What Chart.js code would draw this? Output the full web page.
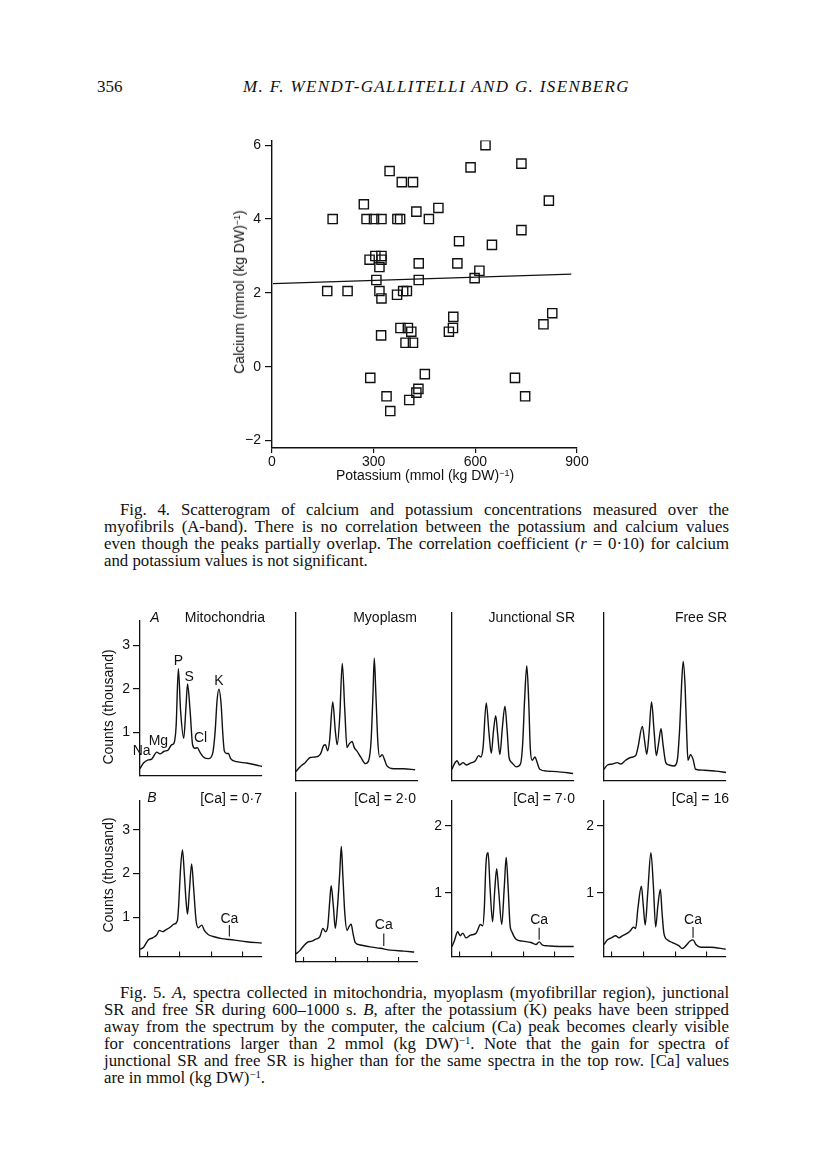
<!DOCTYPE html>
<html>
<head>
<meta charset="utf-8">
<script src="https://cdn.jsdelivr.net/npm/chart.js@4.4.0/dist/chart.umd.min.js"></script>
<style>
body { margin: 0; background: #fff; }
#page { position: relative; width: 816px; height: 1166px; overflow: hidden; color: #111; font-family: "Liberation Serif", serif; }
canvas { position: absolute; }
.t { position: absolute; white-space: nowrap; font-family: "Liberation Sans", Arial, sans-serif; font-size: 14px; line-height: 16px; }
.rot { transform: translate(-50%, -50%) rotate(-90deg); }
.r { transform: translate(-100%, -50%); }
.c { transform: translate(-50%, -50%); }
.cap { position: absolute; left: 104px; width: 625px; font-size: 16.8px; line-height: 17px; }
.cap div { white-space: nowrap; }
.cap div.first { padding-left: 16px; }
sup { font-size: 64%; line-height: 0; vertical-align: 0.5em; }
.head { position: absolute; top: 78px; font-size: 17px; line-height: 18px; }
</style>
</head>
<body>
<div id="page">
  <div class="head" style="left:97px">356</div>
  <div class="head" id="runhead" style="left:243px;font-style:italic">M. F. WENDT-GALLITELLI AND G. ISENBERG</div>

  <canvas id="scatter" width="371" height="344" style="left:230px;top:128px"></canvas>
  <div class="t rot" style="left:239px;top:292px">Calcium (mmol (kg DW)<sup>−1</sup>)</div>
  <div class="t c" style="left:425px;top:475px">Potassium (mmol (kg DW)<sup>−1</sup>)</div>

  <div class="cap" style="top:501px">
    <div class="first"><span>Fig. 4. Scatterogram of calcium and potassium concentrations measured over the</span></div>
    <div><span>myofibrils (A-band). There is no correlation between the potassium and calcium values</span></div>
    <div><span>even though the peaks partially overlap. The correlation coefficient (<i>r</i> = 0·10) for calcium</span></div>
    <div class="last"><span>and potassium values is not significant.</span></div>
  </div>

  <canvas id="pA1"></canvas><canvas id="pA2"></canvas><canvas id="pA3"></canvas><canvas id="pA4"></canvas>
  <canvas id="pB1"></canvas><canvas id="pB2"></canvas><canvas id="pB3"></canvas><canvas id="pB4"></canvas>

  <div class="t rot" style="left:108px;top:707px">Counts (thousand)</div>
  <div class="t rot" style="left:108px;top:875px">Counts (thousand)</div>

  <div class="t c" style="left:155px;top:617px;font-style:italic">A</div>
  <div class="t r" style="left:265px;top:617px">Mitochondria</div>
  <div class="t r" style="left:417px;top:617px">Myoplasm</div>
  <div class="t r" style="left:575px;top:617px">Junctional SR</div>
  <div class="t r" style="left:727px;top:617px">Free SR</div>

  <div class="t c" style="left:152px;top:797px;font-style:italic">B</div>
  <div class="t r" style="left:262px;top:798px">[Ca] = 0·7</div>
  <div class="t r" style="left:416px;top:798px">[Ca] = 2·0</div>
  <div class="t r" style="left:575px;top:798px">[Ca] = 7·0</div>
  <div class="t r" style="left:729px;top:798px">[Ca] = 16</div>

  <div class="cap" style="top:984px">
    <div class="first"><span>Fig. 5. <i>A</i>, spectra collected in mitochondria, myoplasm (myofibrillar region), junctional</span></div>
    <div><span>SR and free SR during 600–1000 s. <i>B</i>, after the potassium (K) peaks have been stripped</span></div>
    <div><span>away from the spectrum by the computer, the calcium (Ca) peak becomes clearly visible</span></div>
    <div><span>for concentrations larger than 2 mmol (kg DW)<sup>−1</sup>. Note that the gain for spectra of</span></div>
    <div><span>junctional SR and free SR is higher than for the same spectra in the top row. [Ca] values</span></div>
    <div class="last"><span>are in mmol (kg DW)<sup>−1</sup>.</span></div>
  </div>
</div>

<script>
// Fig. 4 scatter: potassium vs calcium, mmol (kg DW)^-1
let potassium = [630, 736, 586, 347, 383, 416, 817, 271, 491, 426, 179, 279, 301, 323, 370, 378, 463, 736, 552, 649,
    305, 323, 288, 323, 317, 433, 547, 612, 598, 308, 433, 163, 223, 317, 323, 369, 387, 398, 535, 827,
    801, 379, 401, 411, 322, 394, 416, 522, 534, 451, 290, 717, 432, 426, 338, 747, 405, 349]
let calcium = [6.0, 5.5, 5.4, 5.3, 5.0, 5.0, 4.5, 4.4, 4.3, 4.2, 4.0, 4.0, 4.0, 4.0, 4.0, 4.0, 4.0, 3.7, 3.4, 3.3,
    3.0, 3.0, 2.9, 2.9, 2.7, 2.8, 2.8, 2.6, 2.4, 2.35, 2.35, 2.05, 2.05, 2.05, 1.85, 1.95, 2.05, 2.05, 1.35, 1.45,
    1.15, 1.05, 1.05, 0.95, 0.85, 0.65, 0.65, 0.95, 1.05, -0.2, -0.3, -0.3, -0.6, -0.7, -0.8, -0.8, -0.9, -1.2]
let fitK = [3, 883]
let fitCa = [2.25, 2.51]
let kTicks = [0, 300, 600, 900]
let caTicks = [-2, 0, 2, 4, 6]

// Fig. 5 spectra: energy (keV) and counts (thousand)
let mitoE = [0.75, 0.86, 1.01, 1.12, 1.28, 1.38, 1.51, 1.64, 1.75, 1.82, 1.89, 1.96, 2.03, 2.13, 2.20, 2.25, 2.33, 2.41, 2.48, 2.56, 2.64, 2.75, 2.91, 3.04, 3.12, 3.18, 3.24, 3.31, 3.36, 3.41, 3.48, 3.54, 3.61, 3.80, 4.11, 4.38, 4.60]
let mitoC = [0.16, 0.29, 0.36, 0.38, 0.54, 0.50, 0.56, 0.59, 0.71, 0.74, 1.14, 2.46, 1.50, 0.86, 1.57, 2.11, 1.50, 0.71, 0.63, 0.64, 0.54, 0.43, 0.39, 0.50, 1.00, 1.71, 1.99, 1.64, 1.00, 0.57, 0.51, 0.51, 0.39, 0.32, 0.29, 0.25, 0.21]
let myoE = [0.75, 0.89, 1.04, 1.20, 1.36, 1.52, 1.62, 1.68, 1.75, 1.81, 1.91, 1.99, 2.05, 2.13, 2.21, 2.29, 2.36, 2.43, 2.52, 2.59, 2.67, 2.80, 2.94, 3.04, 3.12, 3.18, 3.22, 3.27, 3.33, 3.39, 3.47, 3.54, 3.62, 3.83, 4.15, 4.51]
let myoC = [0.20, 0.31, 0.39, 0.50, 0.51, 0.57, 0.75, 0.77, 0.64, 0.86, 1.68, 1.07, 0.77, 1.36, 2.50, 1.50, 0.71, 0.79, 0.84, 0.71, 0.64, 0.50, 0.37, 0.43, 0.86, 1.86, 2.61, 1.86, 0.86, 0.51, 0.56, 0.46, 0.32, 0.26, 0.26, 0.24]
let jsrE = [0.75, 0.82, 0.91, 0.99, 1.10, 1.20, 1.33, 1.49, 1.59, 1.66, 1.73, 1.83, 1.92, 1.99, 2.06, 2.13, 2.19, 2.26, 2.34, 2.42, 2.49, 2.55, 2.64, 2.78, 2.91, 2.98, 3.04, 3.11, 3.17, 3.22, 3.28, 3.37, 3.43, 3.52, 3.75, 4.06, 4.57]
let jsrC = [0.25, 0.36, 0.43, 0.34, 0.39, 0.34, 0.38, 0.43, 0.54, 0.51, 0.71, 1.66, 1.00, 0.59, 1.07, 1.39, 1.00, 0.56, 1.14, 1.59, 1.07, 0.50, 0.39, 0.30, 0.36, 0.79, 1.71, 2.45, 1.71, 0.71, 0.44, 0.51, 0.41, 0.25, 0.21, 0.20, 0.16]
let fsrE = [0.75, 0.86, 1.01, 1.17, 1.28, 1.43, 1.59, 1.75, 1.82, 1.96, 2.03, 2.10, 2.17, 2.25, 2.33, 2.40, 2.47, 2.55, 2.61, 2.70, 2.80, 2.96, 3.06, 3.14, 3.20, 3.25, 3.31, 3.36, 3.40, 3.48, 3.56, 3.64, 3.90, 4.27, 4.60]
let fsrC = [0.25, 0.34, 0.36, 0.39, 0.36, 0.44, 0.50, 0.54, 0.71, 1.16, 0.86, 0.57, 1.00, 1.68, 1.07, 0.54, 0.79, 1.11, 0.79, 0.39, 0.34, 0.32, 0.43, 1.14, 2.07, 2.54, 2.00, 1.00, 0.44, 0.56, 0.46, 0.25, 0.23, 0.21, 0.18]

let mitoBE = [0.75, 0.86, 1.01, 1.15, 1.28, 1.36, 1.47, 1.54, 1.70, 1.82, 1.93, 1.97, 2.03, 2.09, 2.15, 2.20, 2.25, 2.31, 2.38, 2.44, 2.52, 2.59, 2.70, 2.78, 2.91, 3.06, 3.33, 3.59, 3.80, 4.11, 4.59]
let mitoBC = [0.27, 0.31, 0.48, 0.53, 0.60, 0.70, 0.67, 0.70, 0.77, 0.84, 0.92, 1.27, 2.12, 2.54, 1.98, 1.41, 1.07, 1.62, 2.22, 1.69, 0.92, 0.76, 0.82, 0.70, 0.60, 0.56, 0.51, 0.49, 0.47, 0.44, 0.41]
let myoBE = [0.75, 0.87, 0.99, 1.12, 1.25, 1.36, 1.50, 1.60, 1.68, 1.75, 1.81, 1.86, 1.93, 1.99, 2.06, 2.13, 2.18, 2.23, 2.29, 2.36, 2.42, 2.49, 2.55, 2.62, 2.78, 3.09, 3.41, 3.73, 4.15, 4.48]
let myoBC = [0.27, 0.34, 0.44, 0.52, 0.54, 0.58, 0.63, 0.81, 0.74, 0.84, 1.34, 1.71, 1.27, 0.81, 1.27, 1.98, 2.54, 1.90, 1.13, 0.77, 0.84, 0.90, 0.70, 0.51, 0.46, 0.42, 0.39, 0.35, 0.33, 0.31]
let jsrBE = [0.75, 0.82, 0.93, 1.01, 1.09, 1.19, 1.33, 1.51, 1.58, 1.64, 1.72, 1.77, 1.82, 1.89, 1.95, 2.03, 2.10, 2.16, 2.22, 2.32, 2.40, 2.46, 2.52, 2.58, 2.64, 2.77, 2.98, 3.24, 3.40, 3.50, 3.61, 3.77, 4.19, 4.59]
let jsrBC = [0.20, 0.28, 0.42, 0.36, 0.40, 0.33, 0.37, 0.40, 0.47, 0.53, 0.51, 0.77, 1.42, 1.60, 1.09, 0.57, 1.05, 1.36, 1.05, 0.53, 1.09, 1.53, 1.09, 0.53, 0.42, 0.31, 0.28, 0.26, 0.23, 0.27, 0.22, 0.21, 0.20, 0.20]
let fsrBE = [0.75, 0.86, 0.98, 1.12, 1.22, 1.33, 1.49, 1.59, 1.68, 1.75, 1.82, 1.93, 1.99, 2.05, 2.13, 2.23, 2.31, 2.38, 2.45, 2.53, 2.58, 2.64, 2.75, 2.91, 3.12, 3.22, 3.33, 3.46, 3.56, 3.65, 3.80, 4.11, 4.59]
let fsrBC = [0.23, 0.30, 0.33, 0.36, 0.33, 0.36, 0.40, 0.44, 0.49, 0.47, 0.77, 1.10, 0.81, 0.52, 1.00, 1.60, 1.09, 0.49, 0.81, 1.05, 0.72, 0.40, 0.30, 0.26, 0.21, 0.17, 0.21, 0.28, 0.30, 0.23, 0.19, 0.19, 0.16]

// element labels on the mitochondria spectrum
let peakNames = ['Na', 'Mg', 'P', 'S', 'Cl', 'K']
let peakE = [0.80, 1.33, 1.96, 2.30, 2.66, 3.24]
let peakC = [0.56, 0.79, 2.63, 2.27, 0.87, 2.17]

// Ca marker in each bottom panel
let caE = [3.57, 3.52, 3.50, 3.56]
let caLow = [0.56, 0.44, 0.30, 0.33]
let caHigh = [0.82, 0.70, 0.48, 0.49]
let caLabelC = [0.95, 0.88, 0.60, 0.60]

let keVTicks = [1, 2, 3, 4]

Chart.defaults.font.family = '"Liberation Sans", Arial, sans-serif'
Chart.defaults.color = '#111'

// writes text labels at data coordinates
const textMarks = {
    id: 'textMarks',
    afterDatasetsDraw(chart, args, opts) {
        if (!opts || !opts.items) return
        const ctx = chart.ctx
        const xs = chart.scales.x, ys = chart.scales.y
        ctx.save()
        ctx.font = '14px "Liberation Sans", Arial, sans-serif'
        ctx.fillStyle = '#111'
        ctx.textAlign = 'center'
        ctx.textBaseline = 'middle'
        opts.items.forEach(it => {
            ctx.fillText(it.t, xs.getPixelForValue(it.x), ys.getPixelForValue(it.y))
        })
        ctx.restore()
    }
}
Chart.register(textMarks)

const ink = '#111'
const pts = (xs, ys) => xs.map((v, i) => ({ x: v, y: ys[i] }))

// scatter
new Chart(document.getElementById('scatter'), {
    type: 'scatter',
    data: {
        datasets: [{
            data: pts(potassium, calcium),
            pointStyle: 'rect',
            pointRadius: 6.5,
            borderColor: ink,
            backgroundColor: 'rgba(0,0,0,0)',
            borderWidth: 1.4
        }, {
            type: 'line',
            data: pts(fitK, fitCa),
            borderColor: ink,
            borderWidth: 1.2,
            pointRadius: 0
        }]
    },
    options: {
        responsive: false,
        animation: false,
        events: [],
        layout: { padding: { top: 10, right: 24, left: 0, bottom: 0 }, autoPadding: false },
        plugins: { legend: { display: false }, tooltip: { enabled: false } },
        scales: {
            x: {
                type: 'linear', min: 0, max: 900,
                afterBuildTicks: s => { s.ticks = kTicks.map(v => ({ value: v })) },
                afterFit: s => { s.height = 24 },
                ticks: { font: { size: 14 }, padding: 1, maxRotation: 0 },
                grid: { drawOnChartArea: false, tickLength: 5, color: ink, lineWidth: 1.2 },
                border: { color: ink, width: 1.4 }
            },
            y: {
                min: -2.2, max: 6.13,
                afterBuildTicks: s => { s.ticks = caTicks.map(v => ({ value: v })) },
                afterFit: s => { s.width = 42 },
                ticks: { font: { size: 14 }, padding: 4, callback: v => v < 0 ? '\u2212' + Math.abs(v) : '' + v },
                grid: { drawOnChartArea: false, tickLength: 7, color: ink, lineWidth: 1.2 },
                border: { color: ink, width: 1.4 }
            }
        }
    }
})

// spectra panels
const M = { l: 34, r: 6, t: 4, b: 6 }
const lefts = [140, 296, 452, 604]
const panelW = 122
const peakItems = peakNames.map((t, i) => ({ t: t, x: peakE[i], y: peakC[i] }))

const panels = [
    { id: 'pA1', col: 0, top: 613, bottom: 781, E: mitoE, C: mitoC, yMin: 0, yMax: 3.57, yT: [1, 2, 3], xT: [], items: peakItems },
    { id: 'pA2', col: 1, top: 613, bottom: 781, E: myoE, C: myoC, yMin: 0, yMax: 3.57, yT: [], xT: [] },
    { id: 'pA3', col: 2, top: 613, bottom: 781, E: jsrE, C: jsrC, yMin: 0, yMax: 3.57, yT: [], xT: [] },
    { id: 'pA4', col: 3, top: 613, bottom: 781, E: fsrE, C: fsrC, yMin: 0, yMax: 3.57, yT: [], xT: [] },
    { id: 'pB1', col: 0, top: 793, bottom: 962, E: mitoBE, C: mitoBC, yMin: 0.1, yMax: 3.67, yT: [1, 2, 3], xT: keVTicks, ca: 0 },
    { id: 'pB2', col: 1, top: 793, bottom: 962, E: myoBE, C: myoBC, yMin: 0.1, yMax: 3.67, yT: [], xT: keVTicks, ca: 1 },
    { id: 'pB3', col: 2, top: 793, bottom: 962, E: jsrBE, C: jsrBC, yMin: 0.05, yMax: 2.38, yT: [1, 2], xT: keVTicks, ca: 2 },
    { id: 'pB4', col: 3, top: 793, bottom: 962, E: fsrBE, C: fsrBC, yMin: 0.05, yMax: 2.38, yT: [1, 2], xT: keVTicks, ca: 3 }
]

panels.forEach(p => {
    const cv = document.getElementById(p.id)
    cv.width = M.l + panelW + M.r
    cv.height = M.t + (p.bottom - p.top) + M.b
    cv.style.left = (lefts[p.col] - M.l) + 'px'
    cv.style.top = (p.top - M.t) + 'px'

    const sets = [{
        data: pts(p.E, p.C),
        borderColor: ink,
        borderWidth: 1.4,
        pointRadius: 0,
        cubicInterpolationMode: 'monotone',
        fill: false
    }]
    let items = p.items || []
    if (p.ca !== undefined) {
        const k = p.ca
        sets.push({
            data: [{ x: caE[k], y: caLow[k] }, { x: caE[k], y: caHigh[k] }],
            borderColor: ink, borderWidth: 1.1, pointRadius: 0
        })
        items = [{ t: 'Ca', x: caE[k], y: caLabelC[k] }]
    }

    new Chart(cv, {
        type: 'line',
        data: { datasets: sets },
        options: {
            responsive: false,
            animation: false,
            events: [],
            layout: { padding: { top: M.t, right: M.r, left: 0, bottom: 0 }, autoPadding: false },
            plugins: { legend: { display: false }, tooltip: { enabled: false }, textMarks: { items: items } },
            scales: {
                x: {
                    type: 'linear', min: 0.75, max: 4.6,
                    afterBuildTicks: s => { s.ticks = p.xT.map(v => ({ value: v })) },
                    afterFit: s => { s.height = M.b },
                    ticks: { display: false },
                    grid: { drawOnChartArea: false, drawTicks: p.xT.length > 0, tickLength: -5, color: ink, lineWidth: 1.1 },
                    border: { color: ink, width: 1.3 }
                },
                y: {
                    min: p.yMin, max: p.yMax,
                    afterBuildTicks: s => { s.ticks = p.yT.map(v => ({ value: v })) },
                    afterFit: s => { s.width = M.l },
                    ticks: { display: p.yT.length > 0, font: { size: 14 }, padding: 3 },
                    grid: { drawOnChartArea: false, drawTicks: p.yT.length > 0, tickLength: 7, color: ink, lineWidth: 1.2 },
                    border: { color: ink, width: 1.3 }
                }
            }
        }
    })
})

// stretch the running head to its printed width
let head = document.getElementById('runhead')
let w = head.getBoundingClientRect().width
head.style.letterSpacing = ((387 - w) / head.textContent.length).toFixed(2) + 'px'

// justify each caption line by widening the word gaps
document.querySelectorAll('.cap div').forEach(line => {
    if (line.classList.contains('last')) return
    const span = line.querySelector('span')
    const target = line.classList.contains('first') ? 609 : 625
    const gaps = (span.textContent.match(/ /g) || []).length
    const extra = target - span.getBoundingClientRect().width
    span.style.wordSpacing = (extra / gaps).toFixed(2) + 'px'
})
</script>
</body>
</html>
